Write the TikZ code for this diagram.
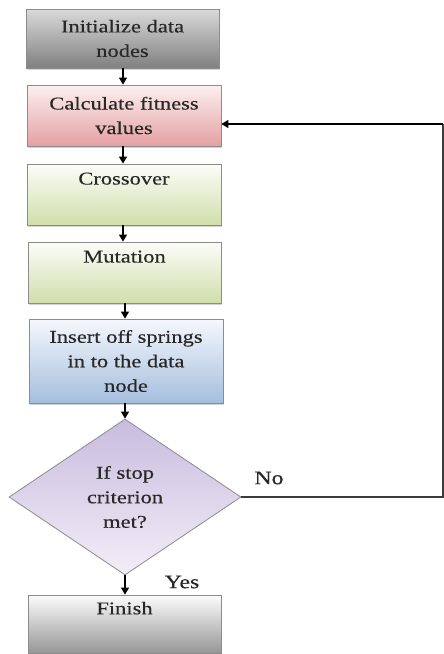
\documentclass[tikz,border=0pt]{standalone}
\usepackage{fontspec}
\setmainfont{Liberation Serif}[FakeStretch=1.25,FakeBold=0.4]
\usetikzlibrary{shapes.geometric,arrows.meta,shadows}
\definecolor{grayTop}{RGB}{218,218,218}
\definecolor{grayBot}{RGB}{128,128,128}
\definecolor{pinkTop}{RGB}{252,240,240}
\definecolor{pinkBot}{RGB}{228,160,162}
\definecolor{greenTop}{RGB}{252,253,248}
\definecolor{greenBot}{RGB}{208,222,172}
\definecolor{blueTop}{RGB}{245,248,253}
\definecolor{blueBot}{RGB}{165,190,222}
\definecolor{lilacTop}{RGB}{200,188,222}
\definecolor{lilacBot}{RGB}{242,238,247}
\definecolor{finTop}{RGB}{252,252,252}
\definecolor{finBot}{RGB}{150,150,150}
\definecolor{edgeGray}{RGB}{140,140,140}
\definecolor{txtGray}{RGB}{40,40,40}
\tikzset{
  procbox/.style={rectangle, draw=edgeGray, line width=0.8pt, align=center,
    font=\fontsize{18}{24.5}\selectfont, text=txtGray, inner sep=0pt,
    drop shadow={shadow xshift=1pt, shadow yshift=-1.5pt, opacity=0.35}},
  decbox/.style={diamond, draw=edgeGray, line width=0.8pt, align=center,
    font=\fontsize{18}{24.5}\selectfont, text=txtGray, inner sep=0pt, aspect=1.49,
    minimum width=232pt, minimum height=156pt},
  flow/.style={-{Triangle[width=8pt,length=7pt]}, line width=1.1pt, black},
  backline/.style={line width=1.3pt, draw={rgb,255:red,60;green,60;blue,60}},
  lbl/.style={font=\fontsize{19}{22}\selectfont, text=txtGray}
}
\begin{document}
\begin{tikzpicture}[x=1pt,y=-1pt]
\useasboundingbox (0,0) rectangle (444,654);
\node[procbox, top color=grayTop, bottom color=grayBot, minimum width=193pt, minimum height=59pt]
  (init) at (122.5,38.5) {Initialize data\\nodes};
\node[procbox, top color=pinkTop, bottom color=pinkBot, minimum width=194pt, minimum height=61pt]
  (calc) at (124,115.5) {Calculate fitness\\values};
\node[procbox, top color=greenTop, bottom color=greenBot, minimum width=194pt, minimum height=61pt]
  (cross) at (124,194.5) {Crossover\\\strut};
\node[procbox, top color=greenTop, bottom color=greenBot, minimum width=193pt, minimum height=61pt]
  (mut) at (124.5,272.5) {Mutation\\\strut};
\node[procbox, top color=blueTop, bottom color=blueBot, minimum width=194pt, minimum height=84pt]
  (ins) at (126,361) {Insert off springs\\in to the data\\node};
\node[decbox, top color=lilacTop, bottom color=lilacBot]
  (dec) at (125,497) {If stop\\criterion\\met?};
\node[procbox, top color=finTop, bottom color=finBot, minimum width=193pt, minimum height=58pt]
  (fin) at (124.5,624) {Finish\\\strut};
\coordinate (c1) at (443,497);
\coordinate (c2) at (443,124);
\draw[flow] (init.south -| 123,0) -- (calc.north -| 123,0);
\draw[flow] (calc.south -| 123,0) -- (cross.north -| 123,0);
\draw[flow] (cross.south -| 123,0) -- (mut.north -| 123,0);
\draw[flow] (mut.south -| 125,0) -- (ins.north -| 125,0);
\draw[flow] (ins.south -| 125,0) -- (dec.north);
\draw[flow] (dec.south) -- (fin.north -| 125,0);
\draw[backline] (dec.east) -- (c1) -- (c2);
\draw[flow, line width=1.3pt] (c2) -- (calc.east |- c2);
\node[lbl] (no) at (269,478) {No};
\node[lbl] (yes) at (182,582) {Yes};
\end{tikzpicture}
\end{document}
